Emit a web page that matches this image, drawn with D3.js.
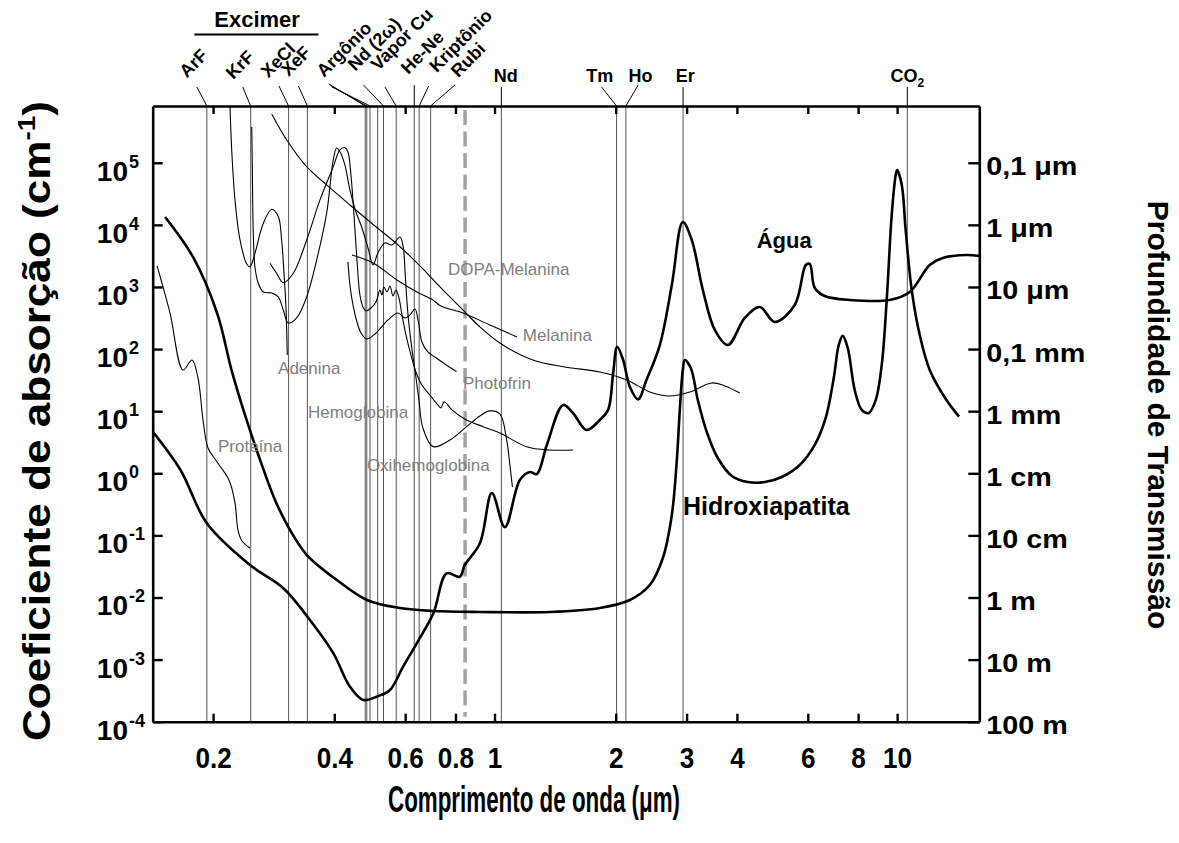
<!DOCTYPE html>
<html>
<head>
<meta charset="utf-8">
<script src="https://cdn.jsdelivr.net/npm/d3@7"></script>
<style>
  body { margin: 0; background: #fff; }
  text { font-family: Arial, "Liberation Sans", sans-serif; }
</style>
</head>
<body>
<svg id="chart" width="1179" height="843"></svg>
<script>
// curves: [wavelength (um), absorption coefficient (1/cm)]
const agua = [[0.1416,4.7],[0.166,1.13],[0.193,0.157],[0.247,0.0334],[0.299,0.0141],[0.348,0.00434],[0.398,0.00126],[0.4375,3.66e-4],[0.472,2.24e-4],[0.5096,2.53e-4],[0.55,3.24e-4],[0.593,7.69e-4],[0.641,1.83e-3],[0.705,5.57e-3],[0.7605,0.0245],[0.82,0.0216],[0.844,0.0334],[0.92,0.0746],[0.985,0.482],[1.061,0.136],[1.156,0.78],[1.224,1.05],[1.274,0.97],[1.349,2.86],[1.481,12.6],[1.568,9.25],[1.693,4.98],[1.827,7.22],[1.915,10.5],[1.971,40.8],[2.017,109],[2.087,66.7],[2.168,24.8],[2.274,15.5],[2.385,31.8],[2.574,116],[2.757,1077],[2.936,11140],[3.09,5710],[3.292,895],[3.525,203],[3.797,116],[4.185,317],[4.559,476],[4.968,273],[5.569,513],[5.932,2260],[6.067,2346],[6.244,964],[6.61,716],[7.626,618],[9.585,618],[10.75,830],[12.05,2260],[12.98,2930],[14.86,3275],[16,3155]]
const hidroxiapatita = [[0.152,13400],[0.1783,3040],[0.2046,381],[0.2229,42.8],[0.240,8.69],[0.2617,1.64],[0.285,0.372],[0.3105,0.122],[0.342,0.0483],[0.406,0.0191],[0.482,0.00912],[0.582,0.00678],[0.703,0.00607],[0.920,0.00585],[1.372,0.00585],[1.827,0.00678],[2.168,0.00912],[2.431,0.0159],[2.619,0.0433],[2.757,0.213],[2.837,1.64],[2.886,10.5],[2.936,46],[2.97,66.7],[3.073,49.6],[3.199,15.1],[3.367,4.62],[3.586,1.76],[3.886,0.905],[4.257,0.724],[4.692,0.724],[5.17,0.872],[5.731,1.36],[6.244,2.86],[6.647,7.77],[6.96,34.2],[7.161,116],[7.328,163],[7.54,104],[7.847,21.9],[8.168,10.5],[8.504,9.35],[8.849,15.1],[9.158,55.5],[9.423,618],[9.696,14430],[9.92,63600],[10.0,76500],[10.27,43900],[10.50,8280],[10.87,895],[11.38,169],[12.05,46.1],[13.26,15.1],[14.25,8.16]]
const proteina = [[0.1452,2180],[0.1563,381],[0.1684,46.1],[0.1773,66.7],[0.1835,34.2],[0.1888,7.22],[0.1943,2.56],[0.2046,1.52],[0.2191,0.78],[0.2267,0.333],[0.2306,0.122],[0.236,0.0813],[0.247,0.0627]]
const adenina = [[0.2203,8.2e5],[0.2225,1.61e5],[0.2267,25200],[0.2333,5710],[0.2424,2346],[0.247,2120],[0.2541,3490],[0.2666,10600],[0.2797,17800],[0.2904,13600],[0.296,5710],[0.300,1660],[0.3034,482],[0.3057,80.4]]
const oxihemoglobina = [[0.2495,3.77e5],[0.2503,8.56e4],[0.2517,7410],[0.2541,2100],[0.2589,1160],[0.2666,830],[0.2797,800],[0.2904,690],[0.2988,426],[0.3075,263],[0.3226,317],[0.3416,690],[0.3617,2720],[0.383,15550],[0.3977,1.11e5],[0.4055,1.73e5],[0.4148,1.44e5],[0.425,92200],[0.4375,36500],[0.4528,16100],[0.4687,8910],[0.4851,4250],[0.4992,2260],[0.5134,3530],[0.5343,5110],[0.5562,4750],[0.5822,6380],[0.5934,4410],[0.5992,1880],[0.605,690],[0.6105,329],[0.6226,108],[0.6345,46],[0.6491,15.1],[0.664,5.36],[0.7045,2.68],[0.775,3.44],[0.8526,5.63],[0.920,8.37],[0.974,10.1],[1.031,9.01],[1.072,3.44],[1.092,1.36],[1.108,0.601]]
const hemoglobina = [[0.277,2410],[0.2877,1660],[0.2988,1173],[0.3164,1660],[0.3416,5710],[0.3686,25200],[0.3977,86500],[0.4132,1.61e5],[0.425,1.75e5],[0.4325,1.49e5],[0.440,63600],[0.4477,14400],[0.4554,2720],[0.4632,743],[0.4713,476],[0.4795,411],[0.4934,459],[0.5076,573],[0.5193,895],[0.5253,743],[0.5313,1000],[0.5406,830],[0.550,1038],[0.5595,716],[0.5692,895],[0.579,665],[0.589,354],[0.6026,169],[0.620,80.4],[0.638,42.8],[0.6603,26.4],[0.6912,18.2],[0.7194,13.1],[0.7361,11.3],[0.7489,14.1],[0.7618,13.1],[0.7839,10.5],[0.8526,7.22],[0.937,5.63],[1.031,4.46],[1.201,2.68],[1.372,2.37],[1.568,2.37]]
const photofrin = [[0.4325,2530],[0.4375,1077],[0.4451,513],[0.4554,273],[0.466,182],[0.4814,145],[0.5049,175],[0.5437,294],[0.5756,381],[0.5992,317],[0.6166,354],[0.6345,442],[0.6472,273],[0.6603,130],[0.6834,89.8],[0.7112,74.6],[0.7532,57.5],[0.805,43.3]]
const melanina = [[0.4426,3275],[0.4992,2435],[0.5725,1297],[0.6418,830],[0.703,618],[0.7361,494],[0.835,381],[0.974,244],[1.137,157]]
const dopaMelanina = [[0.2797,6.11e5],[0.3047,2.33e5],[0.3416,86500],[0.383,43900],[0.4375,20900],[0.5049,9600],[0.5725,4920],[0.6529,2180],[0.732,1000],[0.844,396],[0.920,227],[1.031,125],[1.245,66.7],[1.495,51.5],[1.827,42.8],[2.132,31.8],[2.431,20.4],[2.726,17.6],[3.056,20.4],[3.465,28.5],[3.733,25.5],[4.067,19.6]]

// laser emission lines (um)
const laserWavelengths = [0.193, 0.248, 0.308, 0.343, 0.4775, 0.4817, 0.4906, 0.5127, 0.530, 0.570, 0.632, 0.650, 0.694, 1.04, 2.01, 2.12, 2.94, 10.6]
const diagLabels = ['ArF', 'KrF', 'XeCl', 'XeF', 'Argônio', 'Nd (2ω)', 'Vapor Cu', 'He-Ne', 'Kriptônio', 'Rubi']
const diagLines = [[0], [1], [2], [3], [4, 5, 6], [8], [9], [10], [11], [12]]
const flatLabels = ['Nd', 'Tm', 'Ho', 'Er', 'CO']
const flatLines = [13, 14, 15, 16, 17]
const dashedWavelength = 0.845

// axes
const xTicks = [0.2, 0.4, 0.6, 0.8, 1, 2, 3, 4, 6, 8, 10]
const yTicks = [1e-4, 1e-3, 1e-2, 1e-1, 1, 10, 100, 1e3, 1e4, 1e5]
const yExponents = ['-4', '-3', '-2', '-1', '0', '1', '2', '3', '4', '5']
const depthLabels = ['100 m', '10 m', '1 m', '10 cm', '1 cm', '1 mm', '0,1 mm', '10 μm', '1 μm', '0,1 μm']

// curve names, anchored at [wavelength, coefficient]
const curveLabels = [['DOPA-Melanina', 0.766, 1560], ['Melanina', 1.176, 135], ['Photofrin', 0.835, 22.8], ['Hemoglobina', 0.344, 7.77], ['Proteína', 0.2057, 2.2], ['Oxihemoglobina', 0.482, 1.09], ['Adenina', 0.290, 39.7]]
const boldLabels = [['Água', 4.48, 4250, 22], ['Hidroxiapatita', 2.94, 0.213, 25]]

const svg = d3.select('#chart')
const pLeft = 152.7, pRight = 979.3, pTop = 106, pBottom = 721.7

const x = d3.scaleLog().domain([0.1416, 16]).range([pLeft, pRight])
const y = d3.scaleLog().domain([1e-4, 8.2e5]).range([pBottom, pTop])

svg.append('defs').append('clipPath').attr('id', 'plot')
    .append('rect')
    .attr('x', pLeft).attr('y', pTop)
    .attr('width', pRight - pLeft).attr('height', pBottom - pTop)

// laser lines
svg.append('g').selectAll('line')
    .data(laserWavelengths)
    .enter()
    .append('line')
    .attr('x1', d => x(d)).attr('x2', d => x(d))
    .attr('y1', pTop).attr('y2', pBottom)
    .attr('stroke', '#555')
    .attr('stroke-width', 1)

svg.append('line')
    .attr('x1', x(dashedWavelength)).attr('x2', x(dashedWavelength))
    .attr('y1', pTop + 4).attr('y2', pBottom - 5)
    .attr('stroke', '#a3a3a3')
    .attr('stroke-width', 3.5)
    .attr('stroke-dasharray', '15 6.5')

const line = d3.line()
    .x(d => x(d[0]))
    .y(d => y(d[1]))
    .curve(d3.curveCatmullRom.alpha(0.5))

const curves = [
    { data: proteina, w: 1.1 },
    { data: adenina, w: 1.1 },
    { data: oxihemoglobina, w: 1.1 },
    { data: hemoglobina, w: 1.1 },
    { data: photofrin, w: 1.1 },
    { data: melanina, w: 1.1 },
    { data: dopaMelanina, w: 1.1 },
    { data: agua, w: 2.6 },
    { data: hidroxiapatita, w: 2.6 }
]

svg.append('g').attr('clip-path', 'url(#plot)')
    .selectAll('path')
    .data(curves)
    .enter()
    .append('path')
    .attr('d', d => line(d.data))
    .attr('fill', 'none')
    .attr('stroke', '#000')
    .attr('stroke-width', d => d.w)
    .attr('stroke-linejoin', 'round')

// frame and ticks
function styleAxis(g) {
    g.select('.domain').attr('stroke-width', 2.6)
    g.selectAll('.tick line').attr('stroke-width', 2.4)
    g.attr('font-family', null).attr('font-size', null)
}

const gx = svg.append('g')
    .attr('transform', `translate(0,${pBottom})`)
    .call(d3.axisBottom(x).tickValues(xTicks).tickSizeInner(-8).tickSizeOuter(0).tickPadding(26).tickFormat(d => String(d)))
    .call(styleAxis)
gx.selectAll('text')
    .attr('font-size', 29)
    .attr('font-weight', 'bold')
    .attr('fill', '#000')
    .attr('transform', 'scale(0.9,1)')

svg.append('g')
    .attr('transform', `translate(0,${pTop})`)
    .call(d3.axisTop(x).tickValues(xTicks).tickSizeInner(-8).tickSizeOuter(0).tickFormat(''))
    .call(styleAxis)

svg.append('g')
    .attr('transform', `translate(${pLeft},0)`)
    .call(d3.axisLeft(y).tickValues(yTicks).tickSizeInner(-10).tickSizeOuter(0).tickFormat(''))
    .call(styleAxis)

const gr = svg.append('g')
    .attr('transform', `translate(${pRight},0)`)
    .call(d3.axisRight(y).tickValues(yTicks).tickSizeInner(-11).tickSizeOuter(0).tickPadding(6).tickFormat((d, i) => depthLabels[i]))
    .call(styleAxis)
gr.selectAll('text')
    .attr('font-size', 25)
    .attr('font-weight', 'bold')
    .attr('fill', '#000')
    .attr('y', 4)
    .attr('transform', 'scale(1.15,1)')

// left tick labels: 10 with superscript
const yl = svg.append('g')
yl.selectAll('text.base')
    .data(yTicks)
    .enter()
    .append('text')
    .attr('class', 'base')
    .attr('x', 128)
    .attr('y', d => y(d) + 18)
    .attr('text-anchor', 'end')
    .attr('font-size', 28)
    .attr('font-weight', 'bold')
    .text('10')
yl.selectAll('text.exp')
    .data(yTicks)
    .enter()
    .append('text')
    .attr('class', 'exp')
    .attr('x', 129)
    .attr('y', d => y(d) + 5)
    .attr('font-size', 18)
    .attr('font-weight', 'bold')
    .text((d, i) => yExponents[i])

// axis titles
svg.append('text')
    .attr('x', 534).attr('y', 812)
    .attr('text-anchor', 'middle')
    .attr('font-size', 36)
    .attr('font-weight', 'bold')
    .attr('textLength', 292)
    .attr('lengthAdjust', 'spacingAndGlyphs')
    .text('Comprimento de onda (μm)')

const yt = svg.append('text')
    .attr('transform', 'translate(50,421) rotate(-90)')
    .attr('text-anchor', 'middle')
    .attr('font-size', 38)
    .attr('font-weight', 'bold')
    .attr('textLength', 640)
    .attr('lengthAdjust', 'spacingAndGlyphs')
yt.append('tspan').text('Coeficiente de absorção (cm')
yt.append('tspan').attr('font-size', 24).attr('dy', -15).text('-1')
yt.append('tspan').attr('dy', 15).text(')')

svg.append('text')
    .attr('transform', 'translate(1148,415) rotate(90)')
    .attr('text-anchor', 'middle')
    .attr('font-size', 30)
    .attr('font-weight', 'bold')
    .text('Profundidade de Transmissão')

// laser labels
const diagLayout = [
    [[-10, 87], [-10, -8.5]],
    [[-8, 87], [-9.4, -7]],
    [[-9.6, 86], [-10.7, -7.5]],
    [[-9, 86], [-10, -9]],
    [[-36.3, 84], [-5, -6]],
    [[-20, 85], [-8.3, -13.3]],
    [[-11.3, 87], [-6.7, -15.6]],
    [[0, 85], [-6, -10]],
    [[9.5, 86], [8, -12.7]],
    [[24.3, 85], [3.3, -6.7]]
]
const lg = svg.append('g')
diagLabels.forEach((name, i) => {
    const [lead, off] = diagLayout[i]
    const idx = diagLines[i]
    const x0 = x(laserWavelengths[idx[0]]) + lead[0]
    idx.forEach((k, j) => {
        lg.append('line')
            .attr('x1', x0 + j * 1.5).attr('y1', lead[1] + j * 1.5)
            .attr('x2', x(laserWavelengths[k])).attr('y2', pTop)
            .attr('stroke', '#000').attr('stroke-width', 1)
    })
    lg.append('text')
        .attr('transform', `translate(${x0 + off[0]},${lead[1] + off[1]}) rotate(-45)`)
        .attr('font-size', 18)
        .attr('font-weight', 'bold')
        .text(name)
})

const flatLayout = [[0, 87, 4.5], [-15, 87, -16.7], [12.3, 85, 14.7], [0, 87, 2.3], [0, 87, 0]]
flatLabels.forEach((name, i) => {
    const lx = x(laserWavelengths[flatLines[i]])
    const [dx, ly, tx] = flatLayout[i]
    lg.append('line')
        .attr('x1', lx + dx).attr('y1', ly)
        .attr('x2', lx).attr('y2', pTop)
        .attr('stroke', '#000').attr('stroke-width', 1)
    const t = lg.append('text')
        .attr('x', lx + tx).attr('y', 82)
        .attr('text-anchor', 'middle')
        .attr('font-size', 18)
        .attr('font-weight', 'bold')
        .text(name)
    if (name === 'CO') t.append('tspan').attr('font-size', 12).attr('dy', 5).text('2')
})

// Excimer group
const exA = x(laserWavelengths[0]), exB = x(laserWavelengths[3])
lg.append('text')
    .attr('x', (exA + exB) / 2).attr('y', 27)
    .attr('text-anchor', 'middle')
    .attr('font-size', 22)
    .attr('font-weight', 'bold')
    .text('Excimer')
lg.append('line')
    .attr('x1', exA - 12.5).attr('x2', exB + 11)
    .attr('y1', 34.5).attr('y2', 34.5)
    .attr('stroke', '#000').attr('stroke-width', 2)

// curve labels
svg.append('g').selectAll('text')
    .data(curveLabels)
    .enter()
    .append('text')
    .attr('x', d => x(d[1]))
    .attr('y', d => y(d[2]))
    .attr('font-size', 17)
    .attr('fill', '#808080')
    .text(d => d[0])

svg.append('g').selectAll('text')
    .data(boldLabels)
    .enter()
    .append('text')
    .attr('x', d => x(d[1]))
    .attr('y', d => y(d[2]))
    .attr('font-size', d => d[3])
    .attr('font-weight', 'bold')
    .text(d => d[0])
</script>
</body>
</html>
